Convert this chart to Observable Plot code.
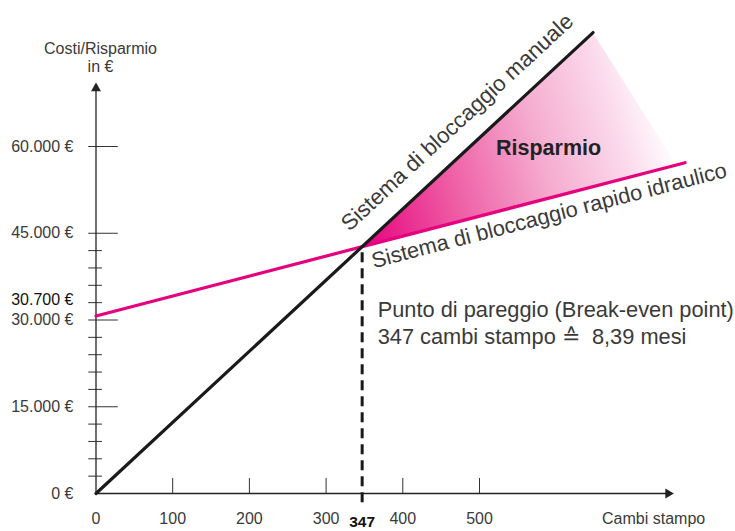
<!DOCTYPE html>
<html>
<head>
<meta charset="utf-8">
<script src="https://cdn.jsdelivr.net/npm/d3@7"></script>
<script src="https://cdn.jsdelivr.net/npm/@observablehq/plot@0.6"></script>
<style>
  html, body { margin: 0; padding: 0; background: #ffffff; }
  #chart { width: 735px; height: 531px; overflow: hidden; }
</style>
</head>
<body>
<div id="chart"></div>
<script>
// ---- data ----
const xTicks = [0, 100, 200, 300, 400, 500];
const yLabelValues = [0, 15000, 30000, 45000, 60000];
const yMajor = [15000, 30000, 45000, 60000];
const yMinor = [3000, 6000, 9000, 12000, 18000, 21000, 24000, 27000, 33000, 36000, 39000, 42000];
const fixedCostHydraulic = 30700;
const breakEvenX = 347;
const breakEvenY = 42680;
const manualLine = [{x: 0, y: 0}, {x: 648, y: 79700}];
const hydraulicLine = [{x: 0, y: 30700}, {x: 768, y: 57200}];
const savings = [
  {x1: 347, y1: 42680, x2: 347, y2: 42680},
  {x1: 757, y1: 56830, x2: 648, y2: 79700}
];
const yAxisEnd = 70070;
const xAxisEnd = 746;
const labelManual = "Sistema di bloccaggio manuale";
const labelHydraulic = "Sistema di bloccaggio rapido idraulico";
const labelSavings = "Risparmio";
const labelBreakEven = "Punto di pareggio (Break-even point)\n347 cambi stampo \u2259  8,39 mesi";
const yTitle = "Costi/Risparmio\nin \u20ac";
const xTitle = "Cambi stampo";

const fmtEuro = d => (d === 0 ? "0" : d3.format(",")(d).replace(/,/g, ".")) + " \u20ac";

const gray = "#3a3a3a";
const magenta = "#e5007d";
const black = "#1a1a1a";

const gradientDefs = (index, scales) => {
  const defs = d3.create("svg:defs");
  const g = defs.append("linearGradient")
    .attr("id", "savingsGrad")
    .attr("gradientUnits", "userSpaceOnUse")
    .attr("x1", scales.x(savings[0].x1)).attr("y1", scales.y(savings[0].y1))
    .attr("x2", scales.x(savings[1].x1)).attr("y2", scales.y(savings[1].y1 + 2000));
  [[0, "#e5007d"], [0.3, "#ee5aa3"], [0.6, "#f5abcf"], [0.85, "#fbdbec"], [1, "#ffffff"]]
    .forEach(([o, c]) => g.append("stop").attr("offset", o).attr("stop-color", c));
  return defs.node();
};

const chart = Plot.plot({
  width: 735,
  height: 531,
  marginTop: 0, marginRight: 0, marginBottom: 0, marginLeft: 0,
  x: {domain: [0, 500], range: [95.5, 479], axis: null},
  y: {domain: [0, 60000], range: [493, 146], axis: null},
  style: {fontFamily: "'Liberation Sans', Arial, sans-serif", background: "#ffffff", overflow: "visible"},
  marks: [
    gradientDefs,
    // savings area
    Plot.area(savings, {x1: "x1", y1: "y1", x2: "x2", y2: "y2", fill: "url(#savingsGrad)"}),
    // y ticks
    Plot.ruleY(yMinor, {y: d => d, x1: -9.5, x2: 8.5, stroke: "#333", strokeWidth: 1}),
    Plot.ruleY(yMajor, {y: d => d, x1: -9.5, x2: 29, stroke: "#333", strokeWidth: 1}),
    // x ticks
    Plot.ruleX(xTicks.filter(d => d > 0), {x: d => d, y1: 0, y2: 2600, stroke: "#333", strokeWidth: 1}),
    // axes
    Plot.ruleX([0], {y1: 0, y2: yAxisEnd, stroke: "#222", strokeWidth: 1.3}),
    Plot.ruleY([0], {x1: 0, x2: xAxisEnd, stroke: "#222", strokeWidth: 1.3}),
    Plot.dot([{x: 0, y: yAxisEnd}], {x: "x", y: "y", symbol: "triangle", r: 3.7, fill: "#222", stroke: null}),
    Plot.dot([{x: xAxisEnd, y: 0}], {x: "x", y: "y", symbol: "triangle", r: 3.7, rotate: 90, fill: "#222", stroke: null}),
    // break-even dashed line
    Plot.ruleX([breakEvenX], {x: d => d, y1: -1600, y2: breakEvenY, stroke: black, strokeWidth: 3, strokeDasharray: "10,6"}),
    // cost lines
    Plot.line(hydraulicLine, {x: "x", y: "y", stroke: magenta, strokeWidth: 3.2}),
    Plot.line(manualLine, {x: "x", y: "y", stroke: black, strokeWidth: 3.2}),
    // y labels
    Plot.text(yLabelValues, {x: 0, y: d => d, text: fmtEuro, textAnchor: "end", dx: -22.5, fontSize: 16, fill: gray}),
    Plot.text([fixedCostHydraulic], {x: 0, y: d => d, text: fmtEuro, textAnchor: "end", dx: -22.5, dy: -16, fontSize: 16, fill: "#111"}),
    // x labels
    Plot.text(xTicks, {x: d => d, y: 0, text: d => String(d), lineAnchor: "bottom", dy: 30, fontSize: 16, fill: gray}),
    Plot.text([breakEvenX], {x: d => d, y: 0, text: d => String(d), lineAnchor: "bottom", dy: 33.5, fontSize: 15.5, fontWeight: "bold", fill: "#111"}),
    Plot.text([xTitle], {x: xAxisEnd, y: 0, text: d => d, textAnchor: "end", lineAnchor: "bottom", dx: 37, dy: 30, fontSize: 16, fill: gray}),
    // y title
    Plot.text([yTitle], {x: 0, y: yAxisEnd, text: d => d, lineAnchor: "bottom", lineHeight: 1.125, dx: 4.5, dy: -15.8, fontSize: 16, fill: gray}),
    // line labels
    Plot.text([labelManual], {x: breakEvenX, y: breakEvenY, text: d => d, textAnchor: "start", lineAnchor: "bottom",
      rotate: -42.84, dx: -12.6, dy: -14.7, fontSize: 22.2, fill: gray}),
    Plot.text([labelHydraulic], {x: breakEvenX, y: breakEvenY, text: d => d, textAnchor: "start", lineAnchor: "bottom",
      rotate: -14.49, dx: 11.5, dy: 21.5, fontSize: 21.8, fill: gray}),
    Plot.text([labelSavings], {x: 590, y: 58450, text: d => d, textAnchor: "middle", lineAnchor: "bottom", fontSize: 21.5, fontWeight: "bold", fill: "#222"}),
    // break-even note
    Plot.text([labelBreakEven], {x: breakEvenX, y: breakEvenY, text: d => d, textAnchor: "start", lineAnchor: "bottom",
      lineHeight: 1.25, dx: 15.5, dy: 97.8, fontSize: 21.8, fill: gray})
  ]
});

document.getElementById("chart").appendChild(chart);
</script>
</body>
</html>
